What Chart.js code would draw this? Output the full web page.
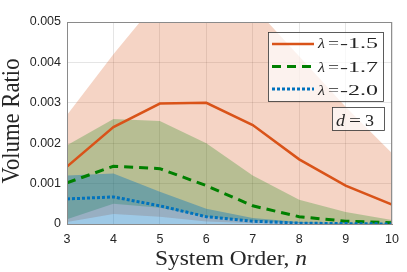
<!DOCTYPE html>
<html>
<head>
<meta charset="utf-8">
<script src="https://cdn.jsdelivr.net/npm/chart.js@4.4.1/dist/chart.umd.min.js"></script>
<style>
  html, body { margin: 0; padding: 0; background: #fff; }
  #wrap { width: 407px; height: 272px; }
</style>
</head>
<body>
<div id="wrap"><canvas id="myChart" width="407" height="272"></canvas></div>
<script>
// system order n
var orders = [3, 4, 5, 6, 7, 8, 9, 10];

// lambda = -1.5
var meanA  = [0.00142, 0.00240, 0.00298, 0.00300, 0.00245, 0.00160, 0.00095, 0.00048];
var upperA = [0.00270, 0.00420, 0.00560, 0.00600, 0.00540, 0.00415, 0.00290, 0.00175];
var lowerA = [0.00005, 0.00025, 0.00018, 0.00006, 0.00002, 0.00001, 0.00000, 0.00000];

// lambda = -1.7
var meanB  = [0.00102, 0.00143, 0.00137, 0.00095, 0.00045, 0.00018, 0.00007, 0.00003];
var upperB = [0.00195, 0.00260, 0.00255, 0.00200, 0.00120, 0.00060, 0.00030, 0.00010];
var lowerB = [0.00012, 0.00050, 0.00040, 0.00018, 0.00008, 0.00002, 0.00000, 0.00000];

// lambda = -2.0
var meanC  = [0.00062, 0.00067, 0.00045, 0.00018, 0.00007, 0.00002, 0.00001, 0.00000];
var upperC = [0.00120, 0.00125, 0.00080, 0.00038, 0.00015, 0.00005, 0.00002, 0.00001];
var lowerC = [0.00000, 0.00000, 0.00000, 0.00000, 0.00000, 0.00000, 0.00000, 0.00000];

var yTicks = [0, 0.001, 0.002, 0.003, 0.004, 0.005];
var lambdaLabels = ['-1.5', '-1.7', '-2.0'];

function pts(ys) {
    return orders.map(function (x, i) { return { x: x, y: ys[i] }; });
}

function band(lo, hi, color, ord, base) {
    return [
        { data: pts(lo), borderWidth: 0, borderColor: 'transparent', pointRadius: 0,
          fill: false, order: ord, band: true },
        { data: pts(hi), borderWidth: 0, borderColor: 'transparent', pointRadius: 0,
          backgroundColor: color, fill: { target: base }, order: ord, band: true }
    ];
}

var sets = [];
sets = sets.concat(band(lowerA, upperA, 'rgba(217,83,25,0.25)', 30, 0));
sets = sets.concat(band(lowerB, upperB, 'rgba(0,128,0,0.25)', 20, 2));
sets = sets.concat(band(lowerC, upperC, 'rgba(0,114,189,0.38)', 10, 4));
sets.push({ label: lambdaLabels[0], data: pts(meanA), borderColor: '#D95319', borderWidth: 2.5,
            pointRadius: 0, fill: false, order: 3 });
sets.push({ label: lambdaLabels[1], data: pts(meanB), borderColor: '#008000', borderWidth: 3,
            borderDash: [9, 6], pointRadius: 0, fill: false, order: 2 });
sets.push({ label: lambdaLabels[2], data: pts(meanC), borderColor: '#0072BD', borderWidth: 3,
            borderDash: [3, 2], pointRadius: 0, fill: false, order: 1 });

var serif = '"Liberation Serif", "DejaVu Serif", serif';
var sans = '"Liberation Sans", Arial, sans-serif';

// draws text starting at x, squeezed/stretched to width w
function fitText(c, str, x, y, font, w) {
    c.font = font;
    var m = c.measureText(str).width;
    c.save();
    c.translate(x, y);
    c.scale(w / m, 1);
    c.fillText(str, 0, 0);
    c.restore();
}

var extras = {
    id: 'extras',
    afterDraw: function (chart) {
        var c = chart.ctx, a = chart.chartArea;
        c.save();
        // box around the axes
        c.strokeStyle = '#8a8a8a';
        c.lineWidth = 1;
        c.strokeRect(a.left + 0.5, a.top + 0.5, a.right - a.left - 1, a.bottom - a.top);

        c.fillStyle = '#262626';
        c.textAlign = 'left';
        c.textBaseline = 'alphabetic';

        // x title
        c.font = '21px ' + serif;
        var w1 = c.measureText('System Order, ').width;
        c.font = 'italic 21px ' + serif;
        var w2 = c.measureText('n').width;
        var k = 152 / (w1 + w2);
        c.save();
        c.translate(155, 265);
        c.scale(k, 1);
        c.font = '21px ' + serif;
        c.fillText('System Order, ', 0, 0);
        c.font = 'italic 21px ' + serif;
        c.fillText('n', w1, 0);
        c.restore();

        // y title
        c.save();
        c.translate(19, 121);
        c.rotate(-Math.PI / 2);
        c.scale(1, 1.15);
        fitText(c, 'Volume Ratio', -62.5, 0, '21px ' + serif, 125);
        c.restore();

        // legend box
        var lx = 268, ly = 32, lw = 115, lh = 69;
        c.fillStyle = 'rgba(255,255,255,0.72)';
        c.fillRect(lx, ly, lw, lh);
        c.strokeStyle = '#333';
        c.lineWidth = 0.8;
        c.strokeRect(lx + 0.5, ly + 0.5, lw, lh);
        var lines = [44, 66.5, 89];
        var bases = [48, 71.5, 94.5];
        chart.data.datasets.filter(function (d) { return !d.band; }).forEach(function (d, i) {
            var y = lines[i];
            c.beginPath();
            c.strokeStyle = d.borderColor;
            c.lineWidth = d.borderWidth;
            c.setLineDash(d.borderDash || []);
            c.moveTo(272, y);
            c.lineTo(314, y);
            c.stroke();
            c.setLineDash([]);
            c.fillStyle = '#262626';
            fitText(c, '\u03bb', 318, bases[i], 'italic 15px ' + serif, 7);
            fitText(c, '=', 328, bases[i], '15px ' + serif, 11);
            fitText(c, d.label, 340, bases[i], '15px ' + serif, 38);
        });

        // d = 3 box
        c.fillStyle = 'rgba(255,255,255,0.72)';
        c.fillRect(332, 107, 52, 23);
        c.strokeStyle = '#333';
        c.lineWidth = 0.8;
        c.strokeRect(332.5, 107.5, 52, 23);
        c.fillStyle = '#262626';
        fitText(c, 'd', 336, 126, 'italic 17px ' + serif, 9);
        fitText(c, '=', 349, 126, '17px ' + serif, 12);
        fitText(c, '3', 365, 126, '17px ' + serif, 9);
        c.restore();
    }
};

var ctx = document.getElementById('myChart');
var myChart = new Chart(ctx, {
    type: 'line',
    data: { datasets: sets },
    options: {
        responsive: false,
        animation: false,
        layout: { padding: { left: 0, right: 12, top: 22, bottom: 0 } },
        plugins: { legend: { display: false }, tooltip: { enabled: false } },
        scales: {
            x: {
                type: 'linear',
                min: 3, max: 10,
                ticks: { stepSize: 1, color: '#262626', padding: 8,
                         font: { family: sans, size: 12.5 } },
                grid: { color: 'rgba(0,0,0,0.1)', drawTicks: false },
                border: { color: '#8a8a8a' },
                afterFit: function (s) { s.height = 272 - 224; }
            },
            y: {
                min: 0, max: 0.005,
                afterBuildTicks: function (s) { s.ticks = yTicks.map(function (v) { return { value: v }; }); },
                ticks: { color: '#262626', padding: 6,
                         font: { family: sans, size: 12.5 },
                         callback: function (v) { return v === 0 ? '0' : v.toFixed(3); } },
                grid: { color: 'rgba(0,0,0,0.1)', drawTicks: false },
                border: { color: '#8a8a8a' },
                afterFit: function (s) { s.width = 67; }
            }
        }
    },
    plugins: [extras]
});
</script>
</body>
</html>
